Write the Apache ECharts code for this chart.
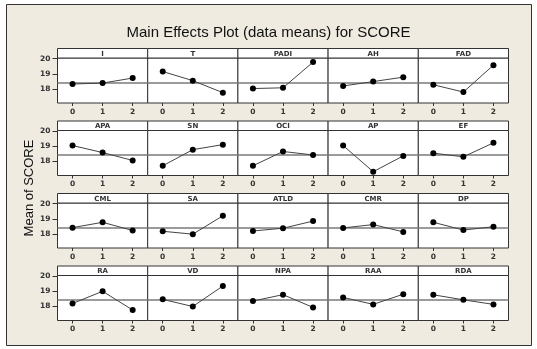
<!DOCTYPE html>
<html>
<head>
<meta charset="utf-8">
<script src="https://cdn.jsdelivr.net/npm/echarts@6/dist/echarts.min.js"></script>
<style>
    html, body {margin: 0; padding: 0; background: #fff;}
    #chart {width: 537px; height: 349px;}
</style>
</head>
<body>
<div id="chart"></div>
<script>
// factor names, read row by row (5 panels per row)
const factors = ['I', 'T', 'PADI', 'AH', 'FAD',
    'APA', 'SN', 'OCI', 'AP', 'EF',
    'CML', 'SA', 'ATLD', 'CMR', 'DP',
    'RA', 'VD', 'NPA', 'RAA', 'RDA'];
const levels = ['0', '1', '2'];
// mean of SCORE at each level, same order as factors
const means = [
    [18.33, 18.39, 18.72], [19.15, 18.55, 17.76], [18.03, 18.08, 19.77], [18.20, 18.49, 18.78], [18.28, 17.80, 19.57],
    [19.05, 18.59, 18.07], [17.72, 18.78, 19.11], [17.72, 18.66, 18.43], [19.05, 17.33, 18.37], [18.55, 18.31, 19.23],
    [18.42, 18.77, 18.23], [18.18, 17.99, 19.20], [18.20, 18.38, 18.85], [18.40, 18.62, 18.14], [18.77, 18.26, 18.48],
    [18.20, 19.00, 17.77], [18.47, 18.00, 19.35], [18.36, 18.78, 17.94], [18.60, 18.14, 18.81], [18.77, 18.44, 18.14]
];
const grandMean = 18.44;
const yTicks = [18, 19, 20];

// 版面
const colLeft = 57.5, colWidth = 90.2;      //面板左边界, 宽度
const stripTops = [48.5, 121, 193.5, 266];  //每行标题条上边界
const stripH = 9.5, plotH = 45;             //标题条高度, 绘图区高度
const smallFont = {fontSize: 7.5, fontWeight: 'bold', color: '#333', fontFamily: 'DejaVu Sans'};

let grids = [], xAxes = [], yAxes = [], series = [], strips = [];
for (let i = 0; i < factors.length; i++) {
    const r = Math.floor(i / 5), c = i % 5;
    const left = colLeft + c * colWidth, top = stripTops[r];
    grids.push({
        left: left, top: top + stripH, width: colWidth, height: plotH,
        show: true, backgroundColor: '#fff', borderColor: '#333', borderWidth: 1
    });
    xAxes.push({
        type: 'category', gridIndex: i, data: levels, boundaryGap: true,
        axisLine: {show: false},
        axisTick: {show: true, alignWithLabel: true, length: 3, lineStyle: {color: '#333'}},
        axisLabel: Object.assign({margin: 5}, smallFont),
        splitLine: {show: false}
    });
    yAxes.push({
        type: 'value', gridIndex: i, min: 17.08, max: 20.04,
        axisLine: {show: false},
        axisTick: {show: c === 0, length: 5, customValues: yTicks, lineStyle: {color: '#333'}},
        axisLabel: Object.assign({show: c === 0, customValues: yTicks, margin: 7}, smallFont),
        splitLine: {show: false}
    });
    series.push({
        type: 'line', xAxisIndex: i, yAxisIndex: i, data: means[i],
        symbol: 'circle', symbolSize: 6,
        itemStyle: {color: '#000'},
        lineStyle: {color: '#444', width: 1},
        z: 3,
        markLine: {
            silent: true, symbol: 'none', label: {show: false},
            lineStyle: {color: '#7a7a7a', width: 1.5, type: 'solid'},
            data: [{yAxis: grandMean}],
            z: 2
        }
    });
    strips.push({
        type: 'rect', z: 10,
        shape: {x: left, y: top, width: colWidth, height: stripH},
        style: {fill: '#fff', stroke: '#333', lineWidth: 1}
    });
    strips.push({
        type: 'text', z: 11, x: left + colWidth / 2, y: top + stripH / 2 + 0.5,
        style: {text: factors[i], fill: '#333', fontSize: 7, fontWeight: 'bold', fontFamily: 'DejaVu Sans',
            textAlign: 'center', textVerticalAlign: 'middle'}
    });
}

let chart = echarts.init(document.getElementById('chart'));
chart.setOption({
    animation: false,
    backgroundColor: '#fff',
    title: {
        text: 'Main Effects Plot (data means) for SCORE',
        left: 'center', top: 20,
        textStyle: {fontSize: 15, fontWeight: 'normal', color: '#111', fontFamily: 'Liberation Sans'}
    },
    graphic: [{
        type: 'rect', z: -10,
        shape: {x: 6.5, y: 4.5, width: 525, height: 341},
        style: {fill: '#efebe0', stroke: '#333', lineWidth: 1}
    }, {
        type: 'text', z: 11, x: 29, y: 188, rotation: Math.PI / 2,
        style: {text: 'Mean of SCORE', fill: '#111', fontSize: 13, fontFamily: 'Liberation Sans',
            textAlign: 'center', textVerticalAlign: 'middle'}
    }].concat(strips),
    grid: grids,
    xAxis: xAxes,
    yAxis: yAxes,
    series: series
});
</script>
</body>
</html>
